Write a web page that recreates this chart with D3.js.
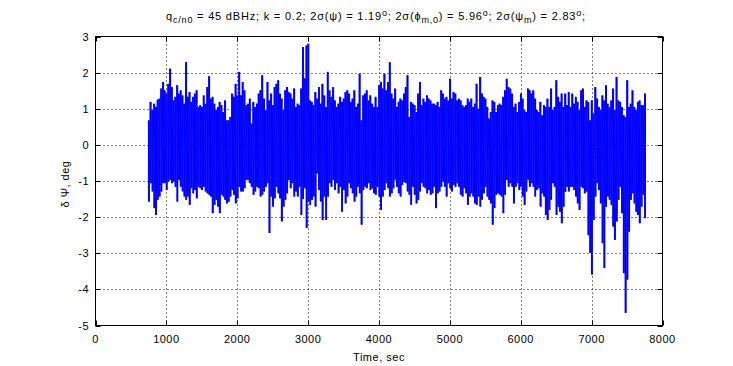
<!DOCTYPE html>
<html><head><meta charset="utf-8">
<script src="https://cdn.jsdelivr.net/npm/d3@7"></script>
<style>
body{margin:0;background:#fff}
svg{display:block}
text{font-family:"Liberation Sans",Arial,Helvetica,sans-serif;fill:#000;letter-spacing:0.5px}
</style>
</head><body>
<svg id="chart" width="733" height="366"></svg>
<script>
// ---- data ----
const xTickValues = [0, 1000, 2000, 3000, 4000, 5000, 6000, 7000, 8000];
const yTickValues = [-5, -4, -3, -2, -1, 0, 1, 2, 3];
const tStart = 740;     // first sample time, sec
const binSec = 25;      // width of each envelope bin, sec
// upper extreme of δΨ (deg) in each bin
const hiVals = [
0.68,1.19,0.96,1.14,1.05,1.25,1.28,1.56,1.74,1.51,
1.42,1.69,2.11,1.60,1.23,1.33,1.65,1.42,1.51,1.37,
1.14,2.29,1.33,1.46,1.19,1.33,1.42,1.51,1.05,1.10,
1.05,1.37,1.14,1.60,1.90,1.28,1.33,1.14,0.96,1.05,
1.19,1.10,0.91,1.23,0.68,0.68,0.77,1.42,1.33,1.69,
1.37,2.02,1.37,1.74,1.51,1.10,1.14,1.28,0.59,1.19,
1.05,1.14,1.42,1.51,1.93,1.28,0.96,1.74,1.23,1.42,
1.10,1.60,1.69,1.79,1.42,1.28,0.96,1.51,1.60,1.46,
1.42,1.28,1.56,1.05,1.14,1.10,1.56,2.71,1.84,2.75,
2.80,1.23,1.19,1.10,1.46,1.28,1.60,1.14,1.69,1.37,
1.05,2.02,1.51,1.33,1.60,1.23,1.05,1.14,1.33,1.19,
1.28,1.46,1.51,1.42,1.19,1.28,1.51,1.05,1.14,1.97,
0.68,1.37,1.42,1.51,1.23,1.37,1.14,1.05,1.33,1.05,
1.65,1.74,1.56,1.97,1.51,1.74,2.29,1.42,1.28,1.56,
1.05,1.19,1.28,1.23,1.42,1.60,1.93,0.77,1.19,1.14,
1.10,0.91,1.42,1.74,1.10,1.28,1.19,1.37,1.28,1.23,
1.14,1.14,1.10,1.19,1.05,1.51,1.42,1.28,1.33,1.23,
1.83,1.28,1.46,1.42,1.23,1.28,1.23,1.10,1.05,1.10,
1.28,1.19,1.28,1.05,1.14,1.69,1.00,1.88,1.42,1.33,
1.28,1.05,0.73,0.91,1.23,1.19,0.91,1.10,1.14,1.10,
1.33,1.51,1.83,1.60,1.56,1.42,1.05,1.14,0.91,1.19,
1.42,1.28,0.96,0.91,1.56,1.51,1.42,1.51,1.28,0.96,
0.91,1.19,0.82,1.10,1.05,1.28,1.05,1.56,0.96,1.05,
1.79,1.33,1.19,1.42,1.05,1.42,1.10,1.46,1.05,1.42,
1.14,1.33,1.19,0.96,1.51,1.56,1.05,1.23,1.19,0.68,
1.23,0.87,1.60,1.28,1.05,0.96,1.37,1.23,1.65,1.14,
1.05,1.23,1.56,0.96,1.88,1.23,1.19,1.05,0.82,0.77,
1.79,1.05,1.14,1.51,1.05,0.96,1.19,1.23,1.10,1.10,
1.42
];
// lower extreme of δΨ (deg) in each bin
const loVals = [
-1.57,-1.06,-1.29,-1.75,-1.94,-1.52,-1.43,-1.29,-1.06,-1.06,
-1.25,-1.02,-0.97,-1.06,-1.02,-1.16,-1.57,-0.97,-1.16,-1.29,
-1.43,-1.52,-1.43,-1.66,-1.20,-1.34,-1.25,-1.48,-1.16,-1.20,
-1.25,-1.16,-1.29,-1.34,-1.38,-1.43,-1.89,-1.66,-1.52,-1.71,
-1.89,-1.38,-1.43,-1.52,-1.62,-1.57,-1.43,-1.25,-1.38,-1.62,
-1.48,-1.16,-1.29,-1.29,-1.20,-0.97,-0.97,-1.06,-1.16,-1.38,
-1.29,-1.16,-1.20,-1.43,-1.38,-1.29,-1.16,-1.06,-2.44,-1.43,
-1.71,-1.48,-1.16,-1.34,-1.48,-2.12,-1.71,-1.52,-1.34,-0.97,
-1.20,-1.06,-1.43,-1.29,-1.43,-1.16,-1.94,-1.50,-1.20,-2.30,
-1.57,-1.66,-1.52,-1.43,-1.71,-0.79,-1.25,-1.57,-2.08,-1.43,
-2.08,-1.43,-1.06,-1.16,-0.97,-1.25,-1.06,-1.34,-1.16,-1.85,
-1.25,-1.62,-1.43,-1.06,-1.20,-1.34,-1.57,-1.43,-1.16,-1.34,
-2.21,-1.25,-1.16,-1.20,-1.06,-1.25,-1.20,-1.34,-1.38,-1.16,
-1.43,-1.80,-1.43,-1.25,-1.06,-1.20,-1.43,-1.34,-1.20,-0.97,
-1.16,-1.34,-1.43,-1.11,-1.02,-1.06,-1.29,-1.38,-1.66,-1.16,
-1.38,-1.62,-1.52,-1.29,-1.06,-1.16,-1.20,-1.34,-1.25,-1.38,
-1.34,-1.16,-1.75,-1.34,-1.29,-1.16,-1.02,-1.16,-1.43,-1.06,
-1.20,-1.29,-1.11,-1.16,-1.06,-1.16,-1.38,-1.43,-1.20,-1.34,
-1.66,-1.43,-1.34,-1.43,-1.62,-1.66,-1.43,-1.71,-1.52,-1.34,
-1.16,-1.43,-1.52,-1.62,-2.21,-1.75,-1.38,-1.34,-1.38,-1.43,
-1.89,-1.38,-0.97,-1.16,-1.06,-1.16,-1.62,-1.16,-1.06,-1.25,
-1.16,-1.43,-1.66,-1.29,-0.97,-1.16,-1.06,-1.16,-1.43,-1.25,
-1.20,-1.71,-1.34,-1.43,-1.94,-2.08,-1.80,-1.52,-1.06,-1.16,
-1.94,-1.71,-1.85,-2.17,-1.71,-1.30,-1.16,-1.29,-1.16,-1.16,
-1.25,-1.43,-1.62,-1.80,-1.16,-1.20,-1.34,-1.29,-2.50,-2.99,
-3.59,-2.08,-1.43,-1.06,-1.25,-1.62,-2.72,-3.41,-1.71,-1.43,
-1.52,-1.66,-2.26,-2.63,-2.12,-1.52,-1.16,-1.89,-3.55,-4.65,
-3.73,-2.40,-1.52,-1.34,-1.62,-1.85,-1.94,-2.17,-1.71,-1.38,
-2.03
];

// ---- layout ----
const svg = d3.select("#chart");
const L = 95.5, R = 662.5, T = 36.5, B = 325.5;
const x = d3.scaleLinear().domain([0, 8000]).range([L, R]);
const y = d3.scaleLinear().domain([-5, 3]).range([B, T]);

// grid (dotted)
const grid = svg.append("g").attr("stroke", "#000").attr("stroke-width", 1).attr("stroke-dasharray", "1,3");
xTickValues.slice(1, -1).forEach(v => {
  grid.append("line").attr("x1", Math.round(x(v)) + 0.5).attr("x2", Math.round(x(v)) + 0.5)
    .attr("y1", T).attr("y2", B);
});
yTickValues.slice(1, -1).forEach(v => {
  grid.append("line").attr("y1", Math.round(y(v)) + 0.5).attr("y2", Math.round(y(v)) + 0.5)
    .attr("x1", L).attr("x2", R);
});

// data: each bin drawn as the column it fills (from its low to its high extreme)
const bins = hiVals.map((h, i) => ({ t: tStart + i * binSec, hi: h, lo: loVals[i] }));
const dataG = svg.append("g").attr("fill", "#0000ff");
dataG.selectAll("rect").data(bins).join("rect")
  .attr("x", d => x(d.t))
  .attr("width", d => x(d.t + binSec) - x(d.t) + 0.15)
  .attr("y", d => y(d.hi))
  .attr("height", d => y(d.lo) - y(d.hi));
// thin connecting trace (hi -> lo zigzag) on top, like the plotted line
const pts = [];
bins.forEach(d => { pts.push([d.t + binSec * 0.25, d.hi]); pts.push([d.t + binSec * 0.75, d.lo]); });
svg.append("path")
  .attr("d", d3.line().x(d => x(d[0])).y(d => y(d[1]))(pts))
  .attr("fill", "none").attr("stroke", "#0000ff").attr("stroke-width", 0.6);

// axes box and ticks
const ax = svg.append("g").attr("stroke", "#000").attr("stroke-width", 1).attr("fill", "none");
ax.append("rect").attr("x", L).attr("y", T).attr("width", R - L).attr("height", B - T);
const tl = 5;
xTickValues.forEach(v => {
  const xx = Math.round(x(v)) + 0.5;
  ax.append("line").attr("x1", xx).attr("x2", xx).attr("y1", B).attr("y2", B - tl);
  ax.append("line").attr("x1", xx).attr("x2", xx).attr("y1", T).attr("y2", T + tl);
});
yTickValues.forEach(v => {
  const yy = Math.round(y(v)) + 0.5;
  ax.append("line").attr("y1", yy).attr("y2", yy).attr("x1", L).attr("x2", L + tl);
  ax.append("line").attr("y1", yy).attr("y2", yy).attr("x1", R).attr("x2", R - tl);
});

// tick labels
const fs = 11;
svg.append("g").selectAll("text").data(xTickValues).join("text")
  .attr("x", d => x(d)).attr("y", 343).attr("text-anchor", "middle")
  .attr("font-size", fs).text(d => d);
svg.append("g").selectAll("text").data(yTickValues).join("text")
  .attr("x", 89).attr("y", d => y(d) + 4).attr("text-anchor", "end")
  .attr("font-size", fs).text(d => d);

// axis labels
svg.append("text").attr("x", (L + R) / 2).attr("y", 361).attr("text-anchor", "middle")
  .attr("font-size", fs).text("Time, sec");
svg.append("text").attr("transform", `translate(69,${(T + B) / 2 + 3}) rotate(-90)`)
  .attr("text-anchor", "middle").attr("font-size", fs).text("δ Ψ, deg");

// title with sub/superscripts
const title = svg.append("text").attr("x", 376).attr("y", 20)
  .attr("text-anchor", "middle").attr("font-size", fs).style("letter-spacing", "0.8px");
const parts = [
  ["q", 0], ["c/n0", -1], [" = 45 dBHz; k = 0.2; 2σ(ψ) = 1.19", 0], ["o", 1],
  ["; 2σ(ϕ", 0], ["m,0", -1], [") = 5.96", 0], ["o", 1],
  ["; 2σ(ψ", 0], ["m", -1], [") = 2.83", 0], ["o", 1], [";", 0]
];
let cur = 0;
parts.forEach(([s, k]) => {
  const target = k === -1 ? 3 : (k === 1 ? -4 : 0);
  const ts = title.append("tspan").text(s).attr("dy", target - cur);
  if (k !== 0) ts.attr("font-size", 9);
  cur = target;
});
</script>
</body></html>
